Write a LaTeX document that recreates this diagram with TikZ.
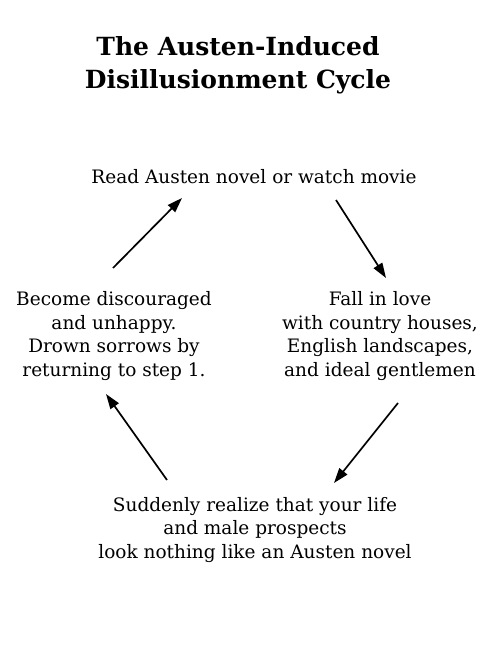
\documentclass[tikz,border=0pt]{standalone}
\usepackage{fontspec}
\setmainfont{DejaVu Serif}
\usetikzlibrary{arrows.meta}
\tikzset{
  body/.style={align=center, inner sep=0pt, font=\fontsize{18.5}{23.5}\selectfont},
  ttl/.style={align=center, inner sep=0pt, font=\bfseries\fontsize{25}{33}\selectfont},
  cyc/.style={line width=1.7pt, -{Triangle[length=15pt,width=10pt]}}
}
\begin{document}
\begin{tikzpicture}[x=1pt,y=-1pt]
\useasboundingbox (0,0) rectangle (500,647);
\node[ttl] (title) at (238,65) {The Austen-Induced\\Disillusionment Cycle};
\node[body] (read) at (254,177) {Read Austen novel or watch movie};
\node[body] (fall) at (380,336) {Fall in love\\with country houses,\\English landscapes,\\and ideal gentlemen};
\node[body] (sud) at (255,530) {Suddenly realize that your life\\and male prospects\\look nothing like an Austen novel};
\node[body] (disc) at (114,336) {Become discouraged\\and unhappy.\\Drown sorrows by\\returning to step 1.};
\coordinate (a1s) at (113,268); \coordinate (a1e) at (182,198);
\coordinate (a2s) at (336,200); \coordinate (a2e) at (386,278);
\coordinate (a3s) at (398,403); \coordinate (a3e) at (334,483);
\coordinate (a4s) at (167,480); \coordinate (a4e) at (106,394);
\draw[cyc] (a1s) -- (a1e);
\draw[cyc] (a2s) -- (a2e);
\draw[cyc] (a3s) -- (a3e);
\draw[cyc] (a4s) -- (a4e);
\end{tikzpicture}
\end{document}
